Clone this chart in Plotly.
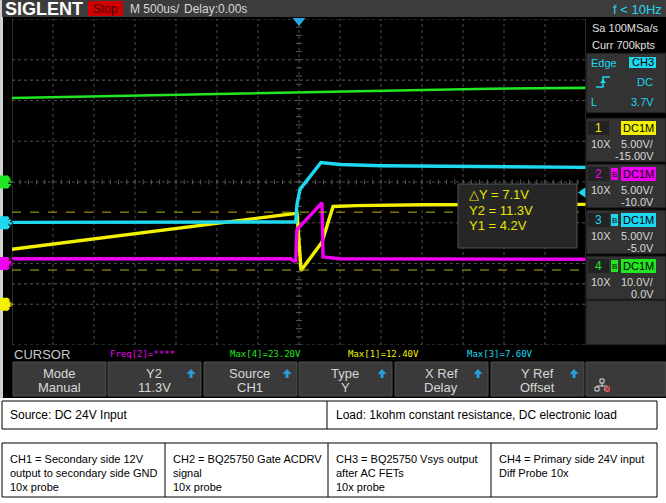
import plotly.graph_objects as go

W, H = 666, 503

# time axis in microseconds (500us/div, 14 div)
ch1_t = [-3500, -40, -25, 25, 280, 415, 700, 1500, 3500]
ch1_v = [6.75, 11.15, 11.3, 4.15, 7.6, 12.0, 12.1, 12.2, 12.25]

ch2_t = [-3500, -100, -70, -40, -25, 280, 293, 500, 3500]
ch2_v = [0.58, 0.58, 0.33, 0.33, 4.15, 7.45, 0.8, 0.58, 0.52]

ch3_t = [-3500, -40, -25, 12, 268, 500, 1000, 2450, 3500]
ch3_v = [0.05, 0.1, 2.2, 4.1, 7.4, 7.15, 7.0, 6.9, 6.8]

ch4_t = [-3500, -2430, -1210, 0, 980, 1460, 2320, 3500]
ch4_v = [20.6, 21.0, 21.5, 22.0, 22.3, 22.5, 22.9, 23.1]

# channel settings: volts/div, offset
ch_scale = [5.0, 5.0, 5.0, 10.0]
ch_offset = [-15.0, -10.0, -5.0, 0.0]
ch_color = ["#f2f200", "#f000f0", "#1ed8f0", "#22e622"]

cursor_y1, cursor_y2 = 4.2, 11.3
trig_level = 3.7

status = [("Freq[2]=****", 108, ch_color[1]), ("Max[4]=23.20V", 228, ch_color[3]),
          ("Max[1]=12.40V", 346, ch_color[0]), ("Max[3]=7.60V", 465, ch_color[2])]
menu = [("Mode", "Manual", False), ("Y2", "11.3V", True), ("Source", "CH1", True),
        ("Type", "Y", True), ("X Ref", "Delay", True), ("Y Ref", "Offset", True)]
menu_x = [13, 108, 204, 299, 395, 491]
menu_w = 93

ch_rows = [("1", "-15.00V", "5.00V/", 118), ("2", "-10.0V", "5.00V/", 164),
           ("3", "-5.0V", "5.00V/", 210), ("4", "0.0V", "10.0V/", 256)]

notes_top = ["Source: DC 24V Input", "Load: 1kohm constant resistance, DC electronic load"]
notes_ch = [["CH1 = Secondary side 12V", "output to secondary side GND", "10x probe"],
            ["CH2 = BQ25750 Gate ACDRV", "signal", "10x probe"],
            ["CH3 = BQ25750 Vsys output", "after AC FETs", "10x probe"],
            ["CH4 = Primary side 24V input", "Diff Probe 10x"]]

GX0, GX1, GY0, GY1 = 12, 586, 19, 345


def px(x):
    return x / W


def py(y):
    return 1 - y / H


shapes = []
ann = []


def rect(x0, y0, x1, y1, fill, line=None, lw=1, layer="above"):
    shapes.append(dict(type="rect", xref="paper", yref="paper",
                       x0=px(x0), x1=px(x1), y0=py(y0), y1=py(y1),
                       fillcolor=fill, layer=layer,
                       line=dict(color=line or fill, width=lw if line else 0)))


def text(x, y, s, color="#d8d8d8", size=12, anchor="left", family="Liberation Sans", bold=False):
    if bold:
        s = "<b>" + s + "</b>"
    ann.append(dict(x=px(x), y=py(y), xref="paper", yref="paper", text=s, showarrow=False,
                    xanchor=anchor, yanchor="middle",
                    font=dict(color=color, size=size, family=family)))


fig = go.Figure()
traces = [(ch1_t, ch1_v, "y"), (ch2_t, ch2_v, "y2"), (ch3_t, ch3_v, "y3"), (ch4_t, ch4_v, "y4")]
for i, (t, v, ya) in enumerate(traces):
    fig.add_trace(go.Scatter(x=t, y=v, yaxis=ya, mode="lines", hoverinfo="skip",
                             line=dict(color=ch_color[i], width=3.4 if i != 3 else 2.6)))

# backgrounds (paper is black; white strip below the scope screen)
rect(0, 398, W, H, "#ffffff", layer="below")
rect(0, 0, 3, 398, "#d0d0d0", layer="below")
rect(2, 0, W, 17, "#3c3c3c")

# grid drawn as shapes between background and traces
grid_c = "#4c4c4c"
for k in range(-7, 8):
    shapes.append(dict(type="line", xref="x", yref="paper", x0=k * 500, x1=k * 500, y0=py(GY1), y1=py(GY0),
                       line=dict(color=grid_c if k not in (-7, 7) else "#5a5a5a", width=1,
                                 dash="dot" if k not in (-7, 7) else "solid"), layer="between"))
for k in range(-4, 5):
    shapes.append(dict(type="line", xref="paper", yref="y", x0=px(GX0), x1=px(GX1), y0=15 + 5 * k, y1=15 + 5 * k,
                       line=dict(color=grid_c, width=1, dash="dot"), layer="between"))
for k in range(-35, 36):
    shapes.append(dict(type="line", xref="x", yref="y", x0=k * 100, x1=k * 100,
                       y0=15 - 0.3, y1=15 + 0.3, line=dict(color="#5a5a5a", width=1), layer="between"))
for k in range(-20, 21):
    shapes.append(dict(type="line", xref="x", yref="y", x0=-36, x1=36,
                       y0=15 + k, y1=15 + k, line=dict(color="#5a5a5a", width=1), layer="between"))
for yv in (2.5, 27.5):
    shapes.append(dict(type="line", xref="paper", yref="y", x0=px(GX0), x1=px(GX1), y0=yv, y1=yv,
                       line=dict(color="#606060", width=1, dash="dot"), layer="between"))

# cursor lines
for yv in (cursor_y1, cursor_y2):
    shapes.append(dict(type="line", xref="paper", yref="y", x0=px(GX0), x1=px(GX1), y0=yv, y1=yv,
                       line=dict(color="#b8b000", width=1, dash="dash")))

# channel ground markers
for i in range(4):
    ya = "y" if i == 0 else "y%d" % (i + 1)
    d = 6.5 / 40.625 * ch_scale[i]
    shapes.append(dict(type="path", xref="paper", yref=ya,
                       path="M %f %f L %f %f L %f 0 L %f %f L %f %f Z" % (
                           px(0), d, px(8), d, px(13), px(8), -d, px(0), -d),
                       fillcolor=ch_color[i], line=dict(width=0)))
    ann.append(dict(x=px(6), y=0, xref="paper", yref=ya, text=str(i + 1), showarrow=False,
                    font=dict(color="#000000", size=10, family="Liberation Sans")))

# trigger level marker (CH3) and trigger position marker
d = 5.5 / 40.625 * ch_scale[2]
shapes.append(dict(type="path", xref="paper", yref="y3",
                   path="M %f %f L %f %f L %f %f L %f %f Z" % (
                       px(586), trig_level + d, px(578), trig_level, px(586), trig_level - d,
                       px(586), trig_level + d),
                   fillcolor=ch_color[2], line=dict(width=0)))
shapes.append(dict(type="path", xref="x", yref="paper",
                   path="M -80 %f L 80 %f L 0 %f Z" % (py(18), py(18), py(26)),
                   fillcolor="#2aa8e0", line=dict(width=0)))

# cursor readout box
rect(458, 184, 577, 248, "#262626", "#555555")
for s, yy in (("\u25b3Y = 7.1V", 195), ("Y2 = 11.3V", 210), ("Y1 = 4.2V", 225)):
    text(467, yy, s, "#e6e600", 13)

# top bar texts
text(3, 9, "SIGLENT", "#ffffff", 18, bold=True)
rect(88, 1, 123, 16, "#d00000")
text(105.5, 9, "Stop", "#4a0000", 12, anchor="center")
text(128, 9, "M 500us/", "#d8d8d8", 12)
text(182, 9, "Delay:0.00s", "#d8d8d8", 12)
text(664, 9, "f &lt; 10Hz", ch_color[2], 13, anchor="right")

# right panel
text(590, 28, "Sa 100MSa/s", "#e0e0e0", 11)
text(590, 45, "Curr 700kpts", "#e0e0e0", 11)
rect(586, 53, 666, 113, "#333333", "#111111")
text(589, 63, "Edge", ch_color[2], 11)
rect(629, 57, 656, 68, ch_color[2])
text(642.5, 62.5, "CH3", "#000000", 11, anchor="center")
shapes.append(dict(type="path", xref="paper", yref="paper",
                   path="M %f %f L %f %f L %f %f L %f %f" % (px(596), py(87), px(603), py(87),
                                                             px(603), py(77), px(610), py(77)),
                   line=dict(color=ch_color[2], width=1.5)))
shapes.append(dict(type="path", xref="paper", yref="paper",
                   path="M %f %f L %f %f L %f %f Z" % (px(600), py(83), px(606), py(83), px(603), py(79)),
                   fillcolor=ch_color[2], line=dict(width=0)))
text(655, 82, "DC", ch_color[2], 11, anchor="right")
text(589, 102, "L", ch_color[2], 11)
text(656, 102, "3.7V", ch_color[2], 11, anchor="right")

for i, (num, off, vdiv, y0) in enumerate(ch_rows):
    rect(586, y0, 666, y0 + 44, "#333333", "#111111")
    rect(588, y0 + 3, 609, y0 + 17, "#222222")
    text(598.5, y0 + 10, num, ch_color[i], 12, anchor="center")
    if i > 0:
        rect(611, y0 + 4, 618, y0 + 16, ch_color[i])
        text(614.5, y0 + 10, "B", "#000000", 8, anchor="center")
    rect(621, y0 + 3, 656, y0 + 17, ch_color[i])
    text(638.5, y0 + 10, "DC1M", "#000000", 11, anchor="center")
    text(589, y0 + 26, "10X", "#d8d8d8", 11)
    text(656, y0 + 26, vdiv, "#d8d8d8", 11, anchor="right")
    text(656, y0 + 38, off, "#d8d8d8", 11, anchor="right")
rect(586, 300, 666, 345, "#333333", "#111111")

# bottom status and menu
text(12, 354, "CURSOR", "#c8c8c8", 13)
for s, x, c in status:
    text(x, 354, s, c, 9, family="DejaVu Sans Mono")
for (l1, l2, arrow), x in zip(menu, menu_x):
    rect(x, 362, x + menu_w, 396, "#3a3a3a", "#4e4e4e")
    text(x + 46, 373, l1, "#d8d8d8", 13, anchor="center")
    text(x + 46, 387, l2, "#d8d8d8", 13, anchor="center")
    if arrow:
        ax, ay = x + 83, 374
        shapes.append(dict(type="path", xref="paper", yref="paper",
                           path="M %f %f L %f %f L %f %f Z" % (px(ax - 4.5), py(ay), px(ax + 4.5), py(ay),
                                                                px(ax), py(ay - 5)),
                           fillcolor="#2a9de0", line=dict(width=0)))
        rect(ax - 1.5, ay, ax + 1.5, ay + 4, "#2a9de0")
rect(586, 362, 666, 396, "#3a3a3a", "#4e4e4e")
for bx, by in ((602, 381), (597, 389), (607, 389)):
    rect(bx - 2, by - 2, bx + 2, by + 2, "#3a3a3a", "#e0e0e0")
shapes.append(dict(type="path", xref="paper", yref="paper",
                   path="M %f %f L %f %f M %f %f L %f %f L %f %f" % (
                       px(602), py(383), px(602), py(386), px(597), py(387), px(597), py(386), px(607), py(386)),
                   line=dict(color="#e0e0e0", width=1)))
shapes.append(dict(type="path", xref="paper", yref="paper",
                   path="M %f %f L %f %f M %f %f L %f %f" % (
                       px(605), py(386), px(610), py(392), px(610), py(386), px(605), py(392)),
                   line=dict(color="#e02020", width=1.2)))

# notes tables
rect(2, 401, 657, 429, "rgba(0,0,0,0)", "#000000")
shapes.append(dict(type="line", xref="paper", yref="paper", x0=px(327), x1=px(327), y0=py(401), y1=py(429),
                   line=dict(color="#000000", width=1)))
text(8, 415, notes_top[0], "#000000", 12)
text(334, 415, notes_top[1], "#000000", 12)

rect(2, 443, 657, 497, "rgba(0,0,0,0)", "#000000")
col_x = [2, 165, 328, 491]
for cx in col_x[1:]:
    shapes.append(dict(type="line", xref="paper", yref="paper", x0=px(cx), x1=px(cx), y0=py(443), y1=py(497),
                       line=dict(color="#000000", width=1)))
for cx, lines in zip(col_x, notes_ch):
    for j, s in enumerate(lines):
        text(cx + 6, 459 + j * 14, s, "#000000", 11)

ax_common = dict(showgrid=False, zeroline=False, showticklabels=False, ticks="", showline=False,
                 fixedrange=True)
layout = dict(
    width=W, height=H, margin=dict(l=0, r=0, t=0, b=0),
    paper_bgcolor="#000000", plot_bgcolor="#000000", showlegend=False,
    xaxis=dict(domain=[px(GX0), px(GX1)], range=[-3500, 3500], **ax_common),
    yaxis=dict(domain=[py(GY1), py(GY0)], range=[ch_scale[0] * -4 - ch_offset[0], ch_scale[0] * 4 - ch_offset[0]],
               **ax_common),
    shapes=shapes, annotations=ann,
)
for i in range(1, 4):
    layout["yaxis%d" % (i + 1)] = dict(
        domain=[py(GY1), py(GY0)], overlaying="y", visible=False, fixedrange=True,
        range=[ch_scale[i] * -4 - ch_offset[i], ch_scale[i] * 4 - ch_offset[i]])
fig.update_layout(**layout)
fig.write_html("out.html", config={"displayModeBar": False},
               post_script="document.body.style.margin='0';")
